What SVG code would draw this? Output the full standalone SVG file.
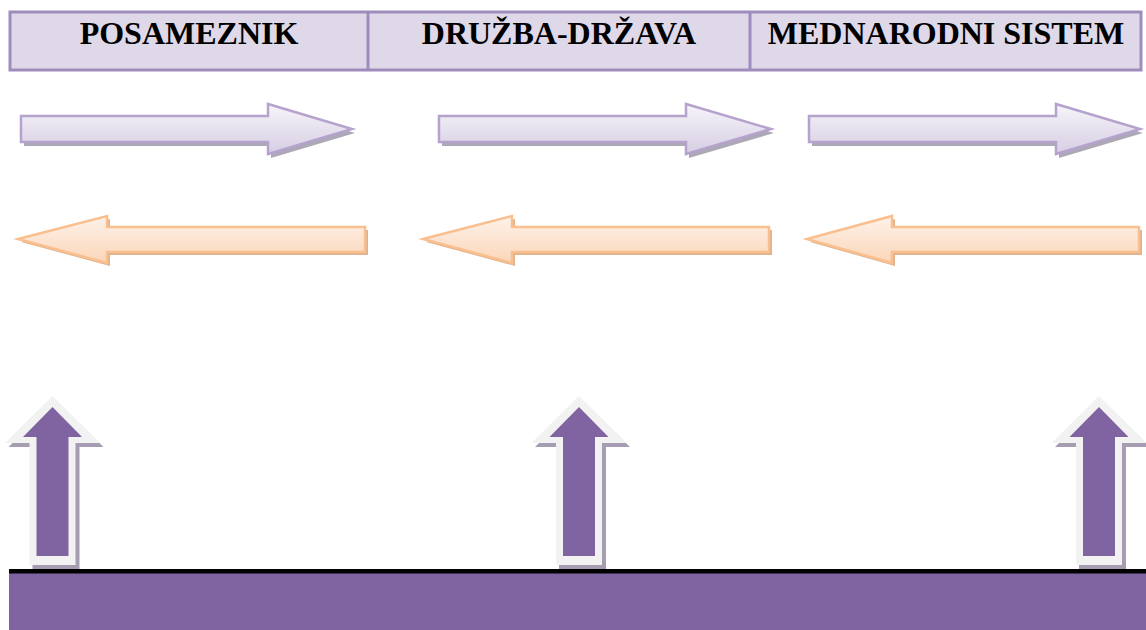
<svg xmlns="http://www.w3.org/2000/svg" width="1146" height="630" viewBox="0 0 1146 630">
<style>
.hdr{fill:#dfd8e8;stroke:#a08cbc;stroke-width:3}
.div{stroke:#a08cbc;stroke-width:3}
.lbl{font-family:"Liberation Serif","Times New Roman",serif;font-weight:bold;font-size:32px;fill:#000;text-anchor:middle}
.ra{fill:url(#gPurple);stroke:#b5a3cd;stroke-width:2.5;stroke-linejoin:miter}
.ras{fill:#9f99a8;opacity:0.85}
.la{fill:url(#gOrange);stroke:#f9bf8f;stroke-width:2.5}
.las{fill:#d9a67a;opacity:0.85}
.uo{fill:#f2f2f2}
.us{fill:#a69db2}
.ui{fill:#8064a2}
</style>
<defs>
<linearGradient id="gPurple" x1="0" y1="0" x2="0" y2="1">
<stop offset="0" stop-color="#f7f5fa"/>
<stop offset="1" stop-color="#d6cde3"/>
</linearGradient>
<linearGradient id="gOrange" x1="0" y1="0" x2="0" y2="1">
<stop offset="0" stop-color="#fef2ea"/>
<stop offset="1" stop-color="#fbd6b8"/>
</linearGradient>
</defs>

<g id="header">
<rect class="hdr" x="10" y="12" width="1131" height="58"/>
<line class="div" x1="368" y1="12" x2="368" y2="70"/>
<line class="div" x1="750" y1="12" x2="750" y2="70"/>
</g>
<g id="node-posameznik"><text class="lbl" x="189" y="44">POSAMEZNIK</text></g>
<g id="node-druzba"><text class="lbl" x="559" y="44">DRUŽBA-DRŽAVA</text></g>
<g id="node-mednarodni"><text class="lbl" x="946" y="44">MEDNARODNI SISTEM</text></g>

<g id="connectors">
<!-- right arrows -->
<g id="ra1">
<polygon class="ras" points="24,120 271,120 271,108 355,133 271,158 271,146 24,146"/>
<polygon class="ra" points="21,116 268,116 268,104 352,129 268,154 268,142 21,142"/>
</g>
<g id="ra2">
<polygon class="ras" points="442,120 689,120 689,108 774,133 689,158 689,146 442,146"/>
<polygon class="ra" points="439,116 686,116 686,104 771,129 686,154 686,142 439,142"/>
</g>
<g id="ra3">
<polygon class="ras" points="812,120 1059,120 1059,108 1143,133 1059,158 1059,146 812,146"/>
<polygon class="ra" points="809,116 1056,116 1056,104 1140,129 1056,154 1056,142 809,142"/>
</g>
<!-- left arrows -->
<g id="la1">
<polygon class="las" points="21,242 110,219 110,230 368,230 368,255 110,255 110,266"/>
<polygon class="la" points="18,239 107,216 107,227 365,227 365,252 107,252 107,263"/>
</g>
<g id="la2">
<polygon class="las" points="426,242 515,219 515,230 772,230 772,255 515,255 515,266"/>
<polygon class="la" points="423,239 512,216 512,227 769,227 769,252 512,252 512,263"/>
</g>
<g id="la3">
<polygon class="las" points="810,242 895,219 895,230 1142,230 1142,255 895,255 895,266"/>
<polygon class="la" points="807,239 892,216 892,227 1139,227 1139,252 892,252 892,263"/>
</g>
<!-- up arrows -->
<g id="ua1">
<polygon class="us" points="55.5,400 103.5,447 79.5,447 79.5,569 32.5,569 32.5,447 8.5,447"/>
<polygon class="uo" points="52.5,396 100,443 75.5,443 75.5,565 29.5,565 29.5,443 5,443"/>
<polygon class="ui" points="52.5,407 82,437 68.5,437 68.5,556 36.5,556 36.5,437 23,437"/>
</g>
<g id="ua2">
<polygon class="us" points="582,400 630,447 606,447 606,569 559,569 559,447 535,447"/>
<polygon class="uo" points="579,396 626.5,443 602,443 602,565 556,565 556,443 531.5,443"/>
<polygon class="ui" points="579,407 608.5,437 595,437 595,556 563,556 563,437 549.5,437"/>
</g>
<g id="ua3">
<polygon class="us" points="1102,400 1150,447 1126,447 1126,569 1079,569 1079,447 1055,447"/>
<polygon class="uo" points="1099,396 1146.5,443 1122,443 1122,565 1076,565 1076,443 1051.5,443"/>
<polygon class="ui" points="1099,407 1128.5,437 1115,437 1115,556 1083,556 1083,437 1069.5,437"/>
</g>
</g>

<g id="base">
<rect x="9" y="573" width="1137" height="57" fill="#8064a2"/>
<rect x="9" y="569" width="1137" height="4.5" fill="#000"/>
</g>
</svg>
